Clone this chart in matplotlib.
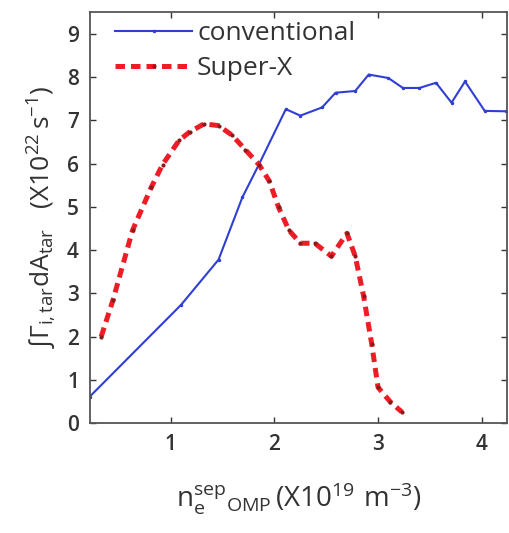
import matplotlib
matplotlib.use("Agg")
import matplotlib.pyplot as plt

plt.rcParams['font.family'] = ['Open Sans', 'DejaVu Sans']
plt.rcParams['mathtext.fontset'] = 'custom'
plt.rcParams['mathtext.rm'] = 'Open Sans'
plt.rcParams['mathtext.it'] = 'Open Sans'
plt.rcParams['mathtext.bf'] = 'Open Sans:bold'

# conventional
conv_x = [0.215, 1.10, 1.46, 1.69, 1.85, 2.11, 2.25, 2.46, 2.59, 2.78, 2.91,
          3.10, 3.24, 3.40, 3.56, 3.71, 3.84, 4.03, 4.24]
conv_y = [0.61, 2.74, 3.78, 5.22, 5.98, 7.26, 7.11, 7.30, 7.64, 7.68, 8.06,
          7.98, 7.75, 7.75, 7.87, 7.41, 7.90, 7.22, 7.21]

# Super-X
sx_x = [0.327, 0.44, 0.63, 0.81, 0.92, 1.08, 1.18, 1.32, 1.46, 1.59, 1.72,
        1.85, 1.95, 2.04, 2.14, 2.25, 2.39, 2.55, 2.70, 2.78, 2.86, 2.94,
        3.00, 3.12, 3.23]
sx_y = [2.00, 2.84, 4.46, 5.45, 5.98, 6.54, 6.73, 6.92, 6.88, 6.66, 6.32,
        5.98, 5.60, 4.99, 4.46, 4.16, 4.16, 3.86, 4.39, 3.86, 2.95, 1.82,
        0.83, 0.49, 0.26]

xticks = [1, 2, 3, 4]
yticks = [0, 1, 2, 3, 4, 5, 6, 7, 8, 9]

tc = '#333333'
fig = plt.figure(figsize=(5.09, 5.33), dpi=100)
ax = fig.add_axes([0.177, 0.206, 0.82, 0.771])

ax.plot(conv_x, conv_y, color='#2f3fd3', lw=1.5, marker='.', ms=3,
        label='conventional')
ax.plot(sx_x, sx_y, color='#ee1c25', lw=3.6, ls=(0, (1.9, 1.2)),
        marker='.', ms=4, mfc='#8b1a1a', mec='#8b1a1a', label='Super-X')

ax.set_xlim(0.22, 4.25)
ax.set_ylim(0, 9.5)
ax.set_xticks(xticks)
ax.set_yticks(yticks)
ax.tick_params(direction='in', top=True, right=True, length=4,
               labelsize=15, colors=tc, pad=8, width=1)
for lab in ax.get_xticklabels() + ax.get_yticklabels():
    lab.set_fontweight('semibold')
for s in ax.spines.values():
    s.set_color('#555555')
    s.set_linewidth(1.3)

ax.set_xlabel(r'$\mathrm{n_e^{sep}{}_{OMP}}$' + r'$\,\mathrm{(X10^{19}\ m^{-3})}$',
              fontsize=20, color=tc, labelpad=18)
ax.set_ylabel('∫' + r'$\Gamma_{\mathrm{i,tar}}\mathrm{dA_{tar}}$' + '   ' +
              r'$\mathrm{(X10^{22}\,s^{-1})}$', fontsize=19, color=tc,
              labelpad=6)

leg = ax.legend(loc='upper left', frameon=False, fontsize=19,
                handlelength=2.9, handletextpad=0.2, labelspacing=0.38,
                borderaxespad=0.0, bbox_to_anchor=(0.035, 1.005))
for t in leg.get_texts():
    t.set_color(tc)

fig.savefig('out.png', dpi=100)
